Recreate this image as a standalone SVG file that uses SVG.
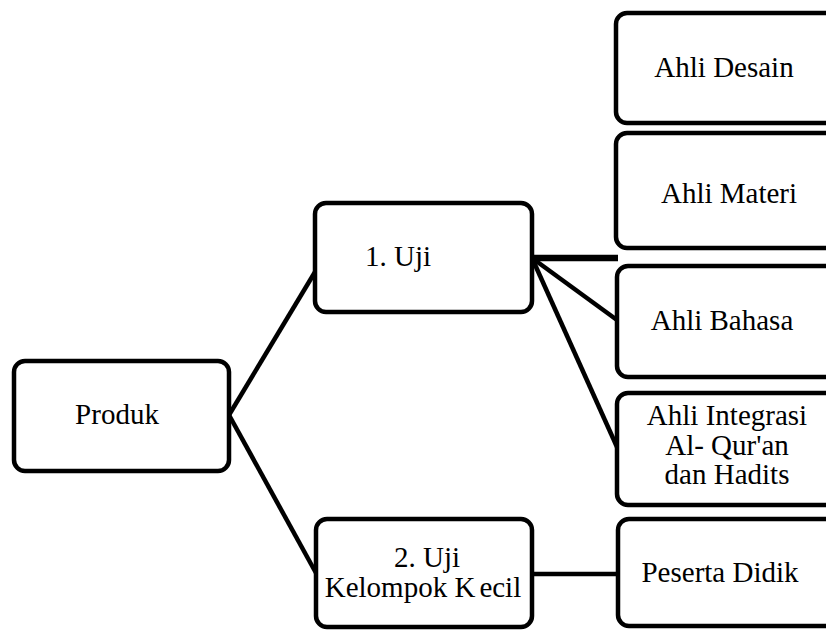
<svg xmlns="http://www.w3.org/2000/svg" width="826" height="630" viewBox="0 0 826 630">
<style>
.box{fill:#fff;stroke:#000;stroke-width:4.5}
.lbl{font-family:'Liberation Serif','Times New Roman',Times,'DejaVu Serif',serif;font-size:29px;fill:#000;text-anchor:middle}
.con{stroke:#000;stroke-width:4.5;fill:none;stroke-linecap:butt}
</style>
<rect width="826" height="630" fill="#fff"/>
<g id="connectors">
<line class="con" x1="229" y1="415" x2="315" y2="272"/>
<line class="con" x1="229" y1="415" x2="316" y2="573"/>
<line class="con" x1="532" y1="258" x2="618" y2="258" style="stroke-width:6.5"/>
<line class="con" x1="532" y1="258" x2="617" y2="320"/>
<line class="con" x1="532" y1="258" x2="617" y2="447"/>
<line class="con" x1="532" y1="574" x2="618" y2="574"/>
</g>
<g id="produk">
<rect class="box" x="14" y="361" width="215" height="110" rx="11"/>
<text class="lbl" font-family="Liberation Serif, serif" x="117" y="424">Produk</text>
</g>
<g id="uji1">
<rect class="box" x="315" y="203" width="217" height="109" rx="11"/>
<text class="lbl" x="365" y="266" style="text-anchor:start">1. Uji</text>
</g>
<g id="uji2">
<rect class="box" x="316" y="519" width="216" height="108" rx="11"/>
<text class="lbl" x="427" y="567">2. Uji</text>
<text class="lbl" x="423" y="597">Kelompok K<tspan dx="4">ecil</tspan></text>
</g>
<g id="ahli-desain">
<rect class="box" x="616" y="13" width="240" height="110" rx="11"/>
<text class="lbl" x="724" y="77">Ahli Desain</text>
</g>
<g id="ahli-materi">
<rect class="box" x="616" y="133" width="240" height="115" rx="11"/>
<text class="lbl" x="729" y="203">Ahli Materi</text>
</g>
<g id="ahli-bahasa">
<rect class="box" x="617" y="266" width="240" height="111" rx="11"/>
<text class="lbl" x="722" y="330">Ahli Bahasa</text>
</g>
<g id="ahli-integrasi">
<rect class="box" x="617" y="393" width="240" height="112" rx="11"/>
<text class="lbl" x="727" y="425">Ahli Integrasi</text>
<text class="lbl" x="727" y="455">Al- Qur'an</text>
<text class="lbl" x="727" y="484">dan Hadits</text>
</g>
<g id="peserta-didik">
<rect class="box" x="618" y="519" width="240" height="107" rx="11"/>
<text class="lbl" x="720" y="582">Peserta Didik</text>
</g>
</svg>
